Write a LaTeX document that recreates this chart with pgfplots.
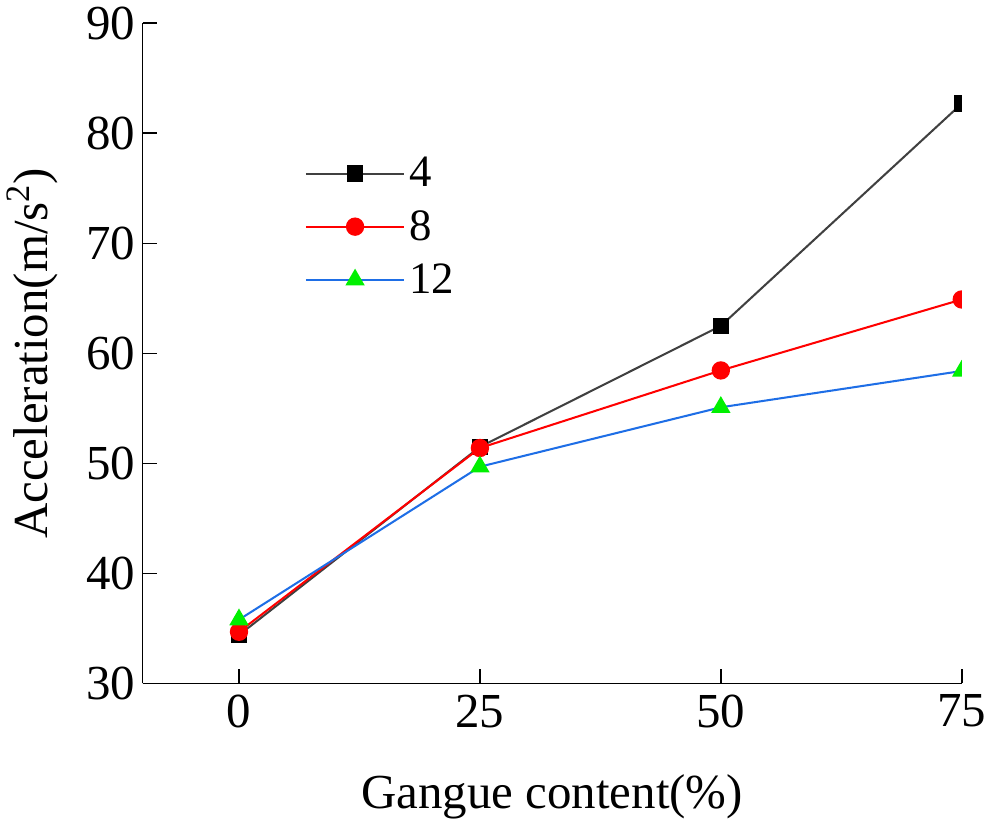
\documentclass[border=0pt]{standalone}
\usepackage{fontspec}
\setmainfont{Liberation Serif}
\usepackage{pgfplots}
\pgfplotsset{compat=1.18}

\definecolor{lineblue}{RGB}{30,110,230}
\definecolor{markgreen}{RGB}{0,240,0}

\begin{document}
\begin{tikzpicture}
\begin{axis}[
    scale only axis, width=402pt, height=324pt,
    xmin=-10, xmax=75, ymin=30, ymax=90,
    axis x line=bottom, axis y line=left,
    axis line style={-, line width=0.8pt},
    xtick={0,25,50,75}, ytick={30,40,...,90},
    tick align=inside, major tick length=7pt,
    tick style={line width=0.8pt, black},
    /pgf/number format/assume math mode=true,
    tick label style={font=\fontsize{24}{28}\selectfont},
    label style={font=\fontsize{24}{28}\selectfont},
    xticklabel style={yshift=-2pt},
    xlabel={Gangue content(\%)},
    ylabel={Acceleration(m/s\textsuperscript{2})},
    xlabel style={yshift=-16pt},
    ylabel style={yshift=7pt},
    clip mode=individual,
    clip marker paths=true,
    legend style={draw=none, fill=none, at={(0.19,0.81)}, anchor=north west,
        font=\fontsize{22}{26}\selectfont, row sep=6pt},
    legend cell align=left,
    legend image code/.code={
        \draw[#1, mark repeat=2, mark phase=2] plot coordinates {(0cm,0cm) (0.85cm,0cm) (1.7cm,0cm)};
    },
]
\addplot[black!75, line width=1pt, mark=square*, mark size=3.5pt, mark options={black, fill=black}]
    coordinates {(0,34.4) (25,51.5) (50,62.5) (75,82.7)};
\addlegendentry{4}
\addplot[red, line width=1pt, mark=*, mark size=4pt, mark options={red, fill=red}]
    coordinates {(0,34.7) (25,51.4) (50,58.45) (75,64.9)};
\addlegendentry{8}
\addplot[lineblue, line width=1pt, mark=triangle*, mark size=4.5pt, mark options={markgreen, fill=markgreen}]
    coordinates {(0,35.8) (25,49.7) (50,55.1) (75,58.4)};
\addlegendentry{12}
\end{axis}
\end{tikzpicture}
\end{document}
